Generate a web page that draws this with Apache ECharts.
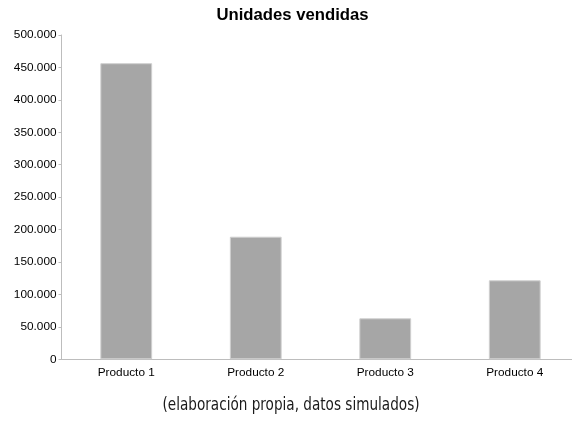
<!DOCTYPE html>
<html><head><meta charset="utf-8">
<script src="https://cdn.jsdelivr.net/npm/echarts@6/dist/echarts.min.js"></script>
<style>html,body{margin:0;padding:0;background:#fff}#c{width:572px;height:422px}</style>
</head><body><div id="c"></div>
<script>
const categories = ["Producto 1", "Producto 2", "Producto 3", "Producto 4"];
const unidades = [456500, 189000, 63200, 121800];
const titleText = "Unidades vendidas";
const captionText = "(elaboración propia, datos simulados)";

function fmt(v){ return String(v).replace(/\B(?=(\d{3})+(?!\d))/g, "."); }

const chart = echarts.init(document.getElementById('c'));
chart.setOption({
  animation: false,
  backgroundColor: '#fff',
  graphic: [{
    type: 'text', x: 292.5, y: 15,
    style: { text: titleText, textAlign: 'center', textVerticalAlign: 'middle',
      font: 'bold 16.7px "Liberation Sans", Arial', fill: '#000' }
  },{
    type: 'text', x: 291, y: 405, scaleX: 0.84,
    style: { text: captionText, textAlign: 'center', textVerticalAlign: 'middle',
      font: '18px "Liberation Sans Narrow", "DejaVu Sans Condensed", Roboto', fill: '#1a1a1a' }
  }],
  grid: { left: 61.5, width: 518, top: 35, bottom: 62.7, containLabel: false, outerBoundsMode: 'none' },
  xAxis: {
    type: 'category', data: categories,
    axisLine: { lineStyle: { color: '#bdbdbd', width: 1 } },
    axisTick: { show: false },
    axisLabel: { color: '#000', fontFamily: 'Liberation Sans, Arial', fontSize: 11.8, margin: 7 }
  },
  yAxis: {
    type: 'value', min: 0, max: 500000, interval: 50000,
    axisLine: { show: true, lineStyle: { color: '#bdbdbd', width: 1 } },
    axisTick: { show: true, length: 3, lineStyle: { color: '#bdbdbd' } },
    splitLine: { show: false },
    axisLabel: { color: '#000', fontFamily: 'Liberation Sans, Arial', fontSize: 11.8, margin: 5, formatter: fmt }
  },
  series: [{
    type: 'bar', data: unidades, barWidth: '40%',
    itemStyle: { color: '#a6a6a6', borderColor: '#cfcfcf', borderWidth: 1 }
  }]
});
</script></body></html>
